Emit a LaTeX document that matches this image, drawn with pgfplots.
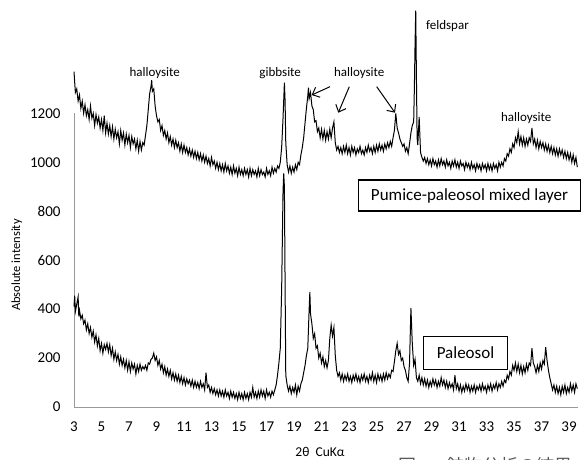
\documentclass[border=0pt]{standalone}
\usepackage{fontspec}
\setmainfont{Carlito}
\newfontfamily\cjk{Noto Sans CJK JP}
\usepackage{pgfplots}
\pgfplotsset{compat=1.18}
\usetikzlibrary{arrows.meta}

\begin{document}
\begin{tikzpicture}[x=1pt,y=1pt]
\begin{axis}[scale only axis,width=504pt,height=407pt,
  xmin=3,xmax=39.65,ymin=0,ymax=1663,clip=false,
  axis x line=bottom,axis y line=left,
  x axis line style={draw=gray!80,-},y axis line style={draw=none},
  xtick={3,5,...,39},ytick={0,200,...,1200},major tick length=0pt,
  /pgf/number format/assume math mode=true,/pgf/number format/1000 sep={},
  ticklabel style={font=\fontsize{15}{17}\selectfont},
  xticklabel style={yshift=-11pt},yticklabel style={xshift=-10pt}]
\coordinate (O) at (axis cs:3,0);
\draw[gray!80] (axis cs:3,0) -- (axis cs:3,1200);
% Pumice-paleosol mixed layer
\addplot[black,line width=1pt] coordinates {
(3.0,1370)(3.1,1285)(3.2,1300)(3.3,1250)(3.4,1275)(3.5,1220)(3.6,1250)(3.7,1200)(3.8,1235)(3.9,1190)
(4.0,1215)(4.1,1175)(4.2,1230)(4.3,1180)(4.4,1200)(4.5,1150)(4.6,1195)(4.7,1160)(4.8,1185)(4.9,1140)
(5.0,1175)(5.1,1130)(5.2,1190)(5.3,1120)(5.4,1160)(5.5,1115)(5.6,1150)(5.7,1105)(5.8,1145)(5.9,1095)
(6.0,1135)(6.1,1100)(6.2,1125)(6.3,1075)(6.4,1130)(6.5,1090)(6.6,1120)(6.7,1070)(6.8,1115)(6.9,1080)
(7.0,1110)(7.1,1060)(7.2,1105)(7.3,1075)(7.4,1095)(7.5,1055)(7.6,1090)(7.7,1045)(7.8,1085)(7.9,1050)
(8.0,1080)(8.1,1070)(8.2,1110)(8.3,1150)(8.4,1215)(8.5,1280)(8.6,1310)(8.65,1335)(8.7,1290)(8.8,1300)(8.9,1230)
(9.0,1190)(9.1,1165)(9.2,1175)(9.3,1130)(9.4,1150)(9.5,1110)(9.6,1130)(9.7,1095)(9.8,1120)(9.9,1080)
(10.0,1105)(10.1,1070)(10.2,1095)(10.3,1060)(10.4,1090)(10.5,1060)(10.6,1080)(10.7,1045)(10.8,1075)(10.9,1040)
(11.0,1070)(11.1,1040)(11.2,1060)(11.3,1030)(11.4,1055)(11.5,1025)(11.6,1050)(11.7,1020)(11.8,1045)(11.9,1015)
(12.0,1040)(12.1,1010)(12.2,1035)(12.3,1005)(12.4,1030)(12.5,1000)(12.6,1025)(12.7,995)(12.8,1015)(12.9,985)
(13.0,1020)(13.1,990)(13.2,1005)(13.3,975)(13.4,1000)(13.5,970)(13.6,995)(13.7,965)(13.8,990)(13.9,960)
(14.0,995)(14.1,965)(14.2,985)(14.3,955)(14.4,980)(14.5,950)(14.6,985)(14.7,955)(14.8,975)(14.9,945)
(15.0,980)(15.1,950)(15.2,970)(15.3,945)(15.4,975)(15.5,950)(15.6,970)(15.7,940)(15.8,975)(15.9,945)
(16.0,970)(16.1,950)(16.2,965)(16.3,940)(16.4,975)(16.5,945)(16.6,970)(16.7,950)(16.8,960)(16.9,940)
(17.0,975)(17.1,950)(17.2,965)(17.3,945)(17.4,980)(17.5,955)(17.6,975)(17.7,960)(17.8,985)(17.9,975)
(18.0,1000)(18.1,1060)(18.2,1180)(18.3,1325)(18.35,1250)(18.4,1080)(18.5,990)(18.6,960)(18.7,985)(18.8,955)(18.9,980)
(19.0,960)(19.1,990)(19.2,970)(19.3,1000)(19.4,990)(19.5,1030)(19.6,1060)(19.7,1100)(19.8,1160)(19.9,1220)
(20.0,1270)(20.05,1305)(20.1,1260)(20.2,1285)(20.3,1230)(20.4,1215)(20.5,1165)(20.6,1170)(20.7,1125)(20.8,1140)(20.9,1100)
(21.0,1135)(21.1,1095)(21.2,1130)(21.3,1090)(21.4,1125)(21.5,1095)(21.6,1135)(21.7,1100)(21.8,1140)(21.9,1165)
(22.0,1080)(22.1,1050)(22.2,1065)(22.3,1040)(22.4,1060)(22.5,1035)(22.6,1065)(22.7,1040)(22.8,1070)(22.9,1035)
(23.0,1060)(23.1,1030)(23.2,1065)(23.3,1040)(23.4,1060)(23.5,1030)(23.6,1055)(23.7,1040)(23.8,1065)(23.9,1035)
(24.0,1050)(24.1,1030)(24.2,1060)(24.3,1040)(24.4,1070)(24.5,1045)(24.6,1060)(24.7,1035)(24.8,1065)(24.9,1040)
(25.0,1070)(25.1,1045)(25.2,1075)(25.3,1050)(25.4,1070)(25.5,1045)(25.6,1075)(25.7,1055)(25.8,1080)(25.9,1060)
(26.0,1085)(26.1,1065)(26.2,1100)(26.3,1130)(26.4,1200)(26.5,1140)(26.6,1120)(26.7,1095)(26.8,1080)(26.9,1065)
(27.0,1075)(27.1,1045)(27.2,1060)(27.3,1035)(27.4,1075)(27.5,1120)(27.6,1150)(27.7,1165)(27.75,1300)(27.8,1480)(27.85,1620)(27.9,1350)(27.95,1100)
(28.0,1070)(28.1,1185)(28.2,1040)(28.3,1020)(28.4,1005)(28.5,1020)(28.6,995)(28.7,1015)(28.8,990)(28.9,1010)
(29.0,985)(29.1,1015)(29.2,990)(29.3,1005)(29.4,980)(29.5,1010)(29.6,985)(29.7,1015)(29.8,990)(29.9,1005)
(30.0,980)(30.1,1010)(30.2,985)(30.3,1000)(30.4,975)(30.5,1005)(30.6,985)(30.7,1010)(30.8,980)(30.9,1000)
(31.0,975)(31.1,1005)(31.2,985)(31.3,995)(31.4,970)(31.5,1000)(31.6,980)(31.7,995)(31.8,970)(31.9,1000)
(32.0,975)(32.1,990)(32.2,965)(32.3,995)(32.4,975)(32.5,990)(32.6,965)(32.7,995)(32.8,975)(32.9,990)
(33.0,965)(33.1,995)(33.2,970)(33.3,990)(33.4,965)(33.5,995)(33.6,975)(33.7,990)(33.8,965)(33.9,1000)
(34.0,980)(34.1,1000)(34.2,985)(34.3,1015)(34.4,1005)(34.5,1035)(34.6,1025)(34.7,1055)(34.8,1040)(34.9,1075)
(35.0,1060)(35.1,1100)(35.2,1080)(35.3,1125)(35.4,1075)(35.5,1105)(35.6,1070)(35.7,1100)(35.8,1065)(35.9,1095)
(36.0,1070)(36.1,1100)(36.2,1085)(36.3,1140)(36.4,1075)(36.5,1095)(36.6,1060)(36.7,1090)(36.8,1055)(36.9,1085)
(37.0,1060)(37.1,1080)(37.2,1050)(37.3,1075)(37.4,1045)(37.5,1070)(37.6,1040)(37.7,1065)(37.8,1035)(37.9,1060)
(38.0,1030)(38.1,1055)(38.2,1025)(38.3,1055)(38.4,1030)(38.5,1050)(38.6,1020)(38.7,1045)(38.8,1015)(38.9,1040)
(39.0,1010)(39.1,1035)(39.2,1000)(39.3,1030)(39.4,995)(39.5,1020)(39.6,980)};
% Paleosol
\addplot[black,line width=1pt] coordinates {
(3.0,410)(3.05,455)(3.1,390)(3.2,420)(3.3,450)(3.35,370)(3.4,395)(3.5,360)(3.6,375)(3.7,340)(3.8,355)(3.9,315)
(4.0,340)(4.1,300)(4.2,325)(4.3,285)(4.4,310)(4.5,265)(4.6,295)(4.7,250)(4.8,280)(4.9,230)
(5.0,260)(5.1,220)(5.2,255)(5.3,235)(5.4,260)(5.5,225)(5.6,255)(5.7,210)(5.8,240)(5.9,195)
(6.0,225)(6.1,190)(6.2,215)(6.3,175)(6.4,205)(6.5,170)(6.6,195)(6.7,160)(6.8,190)(6.9,150)
(7.0,185)(7.1,145)(7.2,180)(7.3,155)(7.4,175)(7.5,135)(7.6,170)(7.7,145)(7.8,175)(7.9,150)
(8.0,165)(8.1,155)(8.2,170)(8.3,150)(8.4,180)(8.5,175)(8.6,195)(8.7,200)(8.8,220)(8.9,190)
(9.0,205)(9.1,170)(9.2,190)(9.3,155)(9.4,175)(9.5,140)(9.6,165)(9.7,130)(9.8,155)(9.9,125)
(10.0,150)(10.1,115)(10.2,140)(10.3,110)(10.4,135)(10.5,105)(10.6,130)(10.7,100)(10.8,125)(10.9,95)
(11.0,120)(11.1,90)(11.2,115)(11.3,95)(11.4,110)(11.5,85)(11.6,110)(11.7,80)(11.8,105)(11.9,80)
(12.0,100)(12.1,75)(12.2,105)(12.3,80)(12.4,95)(12.5,70)(12.6,140)(12.7,80)(12.8,90)(12.9,60)
(13.0,80)(13.1,55)(13.2,75)(13.3,50)(13.4,70)(13.5,45)(13.6,70)(13.7,45)(13.8,65)(13.9,40)
(14.0,70)(14.1,45)(14.2,60)(14.3,35)(14.4,65)(14.5,40)(14.6,60)(14.7,35)(14.8,55)(14.9,30)
(15.0,60)(15.1,35)(15.2,55)(15.3,30)(15.4,60)(15.5,35)(15.6,55)(15.7,30)(15.8,60)(15.9,40)
(16.0,80)(16.1,40)(16.2,60)(16.3,35)(16.4,65)(16.5,40)(16.6,70)(16.7,45)(16.8,65)(16.9,35)
(17.0,70)(17.1,45)(17.2,60)(17.3,40)(17.4,65)(17.5,50)(17.6,70)(17.7,90)(17.8,130)(17.9,180)
(18.0,240)(18.1,480)(18.2,880)(18.25,955)(18.3,900)(18.35,500)(18.4,130)(18.5,90)(18.6,65)(18.7,85)(18.8,55)(18.9,80)
(19.0,60)(19.1,90)(19.2,50)(19.3,85)(19.4,65)(19.5,95)(19.6,110)(19.7,140)(19.8,170)(19.9,210)
(20.0,240)(20.05,320)(20.1,400)(20.15,470)(20.2,380)(20.3,340)(20.4,280)(20.5,300)(20.6,240)(20.7,250)(20.8,200)(20.9,220)
(21.0,180)(21.1,205)(21.2,165)(21.3,190)(21.4,160)(21.5,190)(21.6,280)(21.7,335)(21.8,290)(21.9,325)
(22.0,210)(22.1,150)(22.2,125)(22.3,140)(22.4,110)(22.5,135)(22.6,105)(22.7,130)(22.8,110)(22.9,135)
(23.0,105)(23.1,125)(23.2,100)(23.3,130)(23.4,110)(23.5,135)(23.6,105)(23.7,125)(23.8,100)(23.9,130)
(24.0,110)(24.1,135)(24.2,105)(24.3,125)(24.4,100)(24.5,130)(24.6,110)(24.7,140)(24.8,105)(24.9,130)
(25.0,100)(25.1,135)(25.2,110)(25.3,130)(25.4,105)(25.5,135)(25.6,110)(25.7,140)(25.8,115)(25.9,135)
(26.0,120)(26.1,150)(26.2,145)(26.3,185)(26.4,230)(26.5,260)(26.6,215)(26.7,230)(26.8,190)(26.9,200)
(27.0,165)(27.1,150)(27.2,120)(27.3,105)(27.4,180)(27.5,405)(27.6,260)(27.7,170)(27.8,195)(27.9,120)
(28.0,105)(28.1,130)(28.2,95)(28.3,120)(28.4,90)(28.5,115)(28.6,85)(28.7,110)(28.8,80)(28.9,105)
(29.0,85)(29.1,115)(29.2,90)(29.3,110)(29.4,80)(29.5,105)(29.6,85)(29.7,120)(29.8,90)(29.9,110)
(30.0,80)(30.1,105)(30.2,75)(30.3,100)(30.4,80)(30.5,95)(30.6,70)(30.7,130)(30.8,75)(30.9,95)
(31.0,65)(31.1,90)(31.2,60)(31.3,85)(31.4,65)(31.5,95)(31.6,70)(31.7,90)(31.8,60)(31.9,85)
(32.0,65)(32.1,90)(32.2,60)(32.3,85)(32.4,70)(32.5,90)(32.6,65)(32.7,95)(32.8,70)(32.9,85)
(33.0,60)(33.1,90)(33.2,70)(33.3,95)(33.4,65)(33.5,90)(33.6,75)(33.7,100)(33.8,70)(33.9,95)
(34.0,80)(34.1,105)(34.2,85)(34.3,110)(34.4,100)(34.5,130)(34.6,115)(34.7,145)(34.8,130)(34.9,170)
(35.0,150)(35.1,180)(35.2,145)(35.3,175)(35.4,140)(35.5,170)(35.6,135)(35.7,165)(35.8,140)(35.9,175)
(36.0,150)(36.1,180)(36.2,170)(36.3,240)(36.4,180)(36.5,165)(36.6,140)(36.7,170)(36.8,145)(36.9,180)
(37.0,155)(37.1,190)(37.2,175)(37.3,245)(37.4,190)(37.5,150)(37.6,120)(37.7,95)(37.8,70)(37.9,90)
(38.0,60)(38.1,85)(38.2,55)(38.3,80)(38.4,50)(38.5,85)(38.6,60)(38.7,90)(38.8,55)(38.9,80)
(39.0,60)(39.1,95)(39.2,65)(39.3,90)(39.4,60)(39.5,95)(39.6,75)};
\end{axis}
% everything below in reference pixel units: (px, 459-py), origin of axis at (74,52)
\begin{scope}[shift={(O)},xshift=-74pt,yshift=-52pt]
\begin{scope}[font=\fontsize{13}{15}\selectfont]
\node at (154.7,386.3) {halloysite};
\node at (280.2,385.7) {gibbsite};
\node at (359.2,385.7) {halloysite};
\node at (447.5,433) {feldspar};
\node at (526.2,340.7) {halloysite};
\end{scope}
\begin{scope}[line width=1pt,-{Straight Barb[length=6pt,width=11pt]}]
\draw (330,372.3) -- (311.7,364);
\draw (349.3,372.3) -- (338.3,346.3);
\draw (376.7,372.3) -- (395,346.3);
\end{scope}
\draw[line width=1.2pt,fill=white] (358.3,248) rectangle (580.3,279);
\node[font=\fontsize{17}{20}\selectfont] at (469.5,263.5) {Pumice-paleosol mixed layer};
\draw[line width=1.2pt,fill=white] (423.3,89.7) rectangle (507.7,122.3);
\node[font=\fontsize{17}{20}\selectfont] at (465.5,106) {Paleosol};
\node[rotate=90,font=\fontsize{12.5}{14}\selectfont] at (16.7,194) {Absolute intensity};
\node[font=\fontsize{13.5}{16}\selectfont] at (320,7) {2θ\ \ CuKα};
\node[font=\cjk\fontsize{18}{20}\selectfont,anchor=base west,inner sep=0pt,text=gray!70!black] at (398,-13) {図};
\node[font=\cjk\fontsize{18}{20}\selectfont,anchor=base west,inner sep=0pt,text=gray!70!black] at (446,-13) {鉱物分析の結果};
\pgfresetboundingbox
\path[use as bounding box] (0,0) rectangle (581,459);
\end{scope}
\end{tikzpicture}
\end{document}
